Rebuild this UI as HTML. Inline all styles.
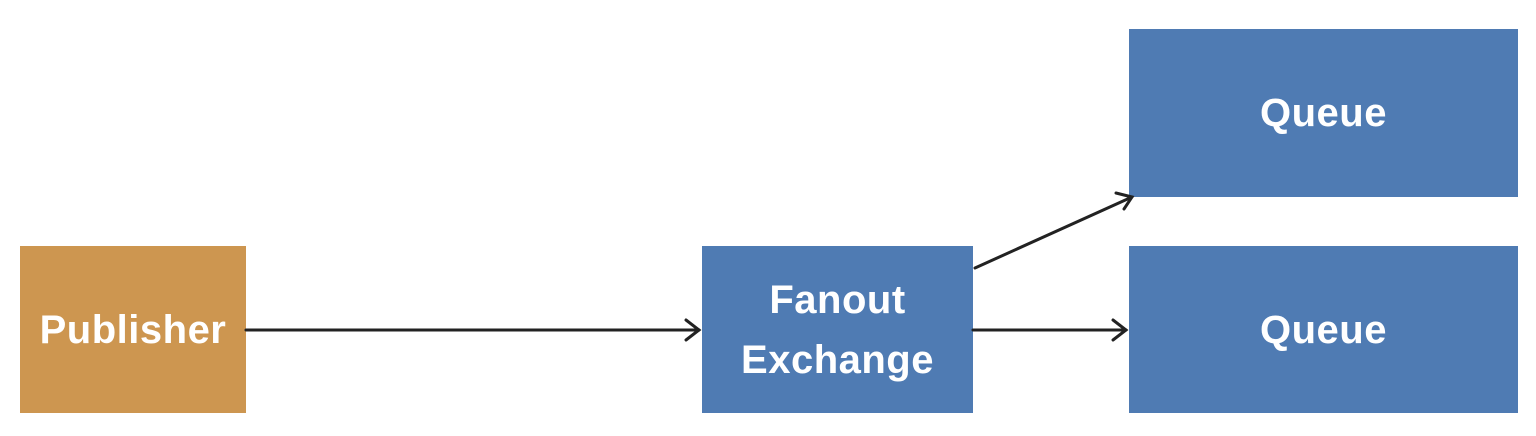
<!DOCTYPE html>
<html><head><style>
body{margin:0;width:1536px;height:436px;background:#fff;position:relative;overflow:hidden;font-family:"Liberation Sans",sans-serif;}
.b{position:absolute;display:flex;align-items:center;justify-content:center;text-align:center;color:#fff;font-size:40px;font-weight:bold;line-height:60px;letter-spacing:0.5px;}
</style></head><body>
<div class="b" style="left:20px;top:246px;width:226px;height:167px;background:#cd9650;">Publisher</div>
<div class="b" style="left:702px;top:246px;width:271px;height:167px;background:#4f7bb3;">Fanout<br>Exchange</div>
<div class="b" style="left:1129px;top:29px;width:389px;height:168px;background:#4f7bb3;">Queue</div>
<div class="b" style="left:1129px;top:246px;width:389px;height:167px;background:#4f7bb3;">Queue</div>
<svg width="1536" height="436" style="position:absolute;left:0;top:0">
<g stroke="#222" stroke-width="3" fill="none" stroke-linecap="round">
<line x1="246" y1="330" x2="699" y2="330"/><polyline points="686,320 699,330 686,340"/>
<line x1="973" y1="330" x2="1126" y2="330"/><polyline points="1113,320 1126,330 1113,340"/>
<line x1="975" y1="268" x2="1132" y2="197"/><polyline points="1124,209 1132,197 1116,193"/>
</g></svg>
</body></html>
